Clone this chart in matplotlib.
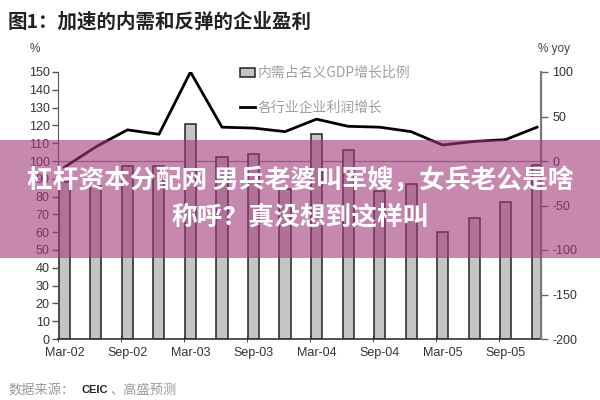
import numpy as np
import matplotlib
matplotlib.use("Agg")
from matplotlib import pyplot as plt
from matplotlib.patches import Rectangle
from matplotlib.lines import Line2D

# ----------------------------------------------------------------------------------------------------------------------
# data

quarters = ['Mar-02', 'Jun-02', 'Sep-02', 'Dec-02', 'Mar-03', 'Jun-03', 'Sep-03', 'Dec-03',
            'Mar-04', 'Jun-04', 'Sep-04', 'Dec-04', 'Mar-05', 'Jun-05', 'Sep-05', 'Dec-05']
demand_share = [88, 86, 97, 97, 121, 102, 104, 84, 115, 106, 83, 87, 60, 68, 77, 98]
profit_growth = [-7, 16, 35, 30, 100, 38, 37, 33, 47, 39, 38, 33, 18, 22, 24, 38]

left_ticks = list(range(0, 151, 10))
right_ticks = [-200, -150, -100, -50, 0, 50, 100]

CJK = ['Noto Sans CJK SC', 'DejaVu Sans']
LAT = ['Liberation Sans', 'DejaVu Sans']

# ----------------------------------------------------------------------------------------------------------------------

plt.rcParams['font.family'] = LAT
plt.rcParams['axes.unicode_minus'] = False

fig = plt.figure(figsize=(6, 4), dpi=100)
fig.patch.set_facecolor('white')

ax1 = fig.add_axes([58 / 600, 1 - 339 / 400, (541 - 58) / 600, (339 - 72) / 400])
ax2 = ax1.twinx()

idx = np.arange(len(quarters))
offset = 0.03
width = 0.35
centers = idx + offset + width / 2

ax1.bar(idx + offset, demand_share, width=width, align='edge',
        color='#c4c4c4', edgecolor='#222222', linewidth=1.1, zorder=2,
        label='内需占名义GDP增长比例')
ax1.axhline(100, color='#8a8a8a', linewidth=0.9, zorder=1)

ax2.plot(centers, profit_growth, color='black', linewidth=2, zorder=3,
         label='各行业企业利润增长')

ax1.set_xlim(0, 15.33)
ax1.set_ylim(0, 150)
ax2.set_ylim(-200, 100)

ax1.set_yticks(left_ticks)
ax2.set_yticks(right_ticks)

ax1.set_xticks(centers[::2])
ax1.set_xticklabels(quarters[::2])
ax1.set_xticks(idx[::2], minor=True)
ax1.tick_params(axis='x', which='major', length=0, pad=6, labelsize=9, labelcolor='#333333')
ax1.tick_params(axis='x', which='minor', length=5, direction='inout', color='#333333')
ax1.tick_params(axis='y', length=4, width=1, color='#555555', labelsize=9, labelcolor='#333333', pad=2)
ax2.tick_params(axis='y', length=5, width=1, color='#666666', labelsize=9, labelcolor='#333333', pad=3)

for a in (ax1, ax2):
    a.spines['top'].set_visible(False)
ax1.spines['left'].set_color('#555555')
ax1.spines['bottom'].set_color('#333333')
ax1.spines['bottom'].set_linewidth(1.2)
ax2.spines['left'].set_visible(False)
ax2.spines['bottom'].set_visible(False)
ax2.spines['right'].set_color('#777777')
ax2.spines['right'].set_linewidth(1.5)

# legend
handles = [Rectangle((0, 0), 1, 1, facecolor='#c4c4c4', edgecolor='#222222', linewidth=1.1),
           Line2D([0], [0], color='black', linewidth=2)]
labels = ['内需占名义GDP增长比例', '各行业企业利润增长']
leg = ax2.legend(handles, labels, loc='upper left', bbox_to_anchor=(240 / 600, 1 - 66 / 400),
                 bbox_transform=fig.transFigure, frameon=False, borderpad=0, borderaxespad=0,
                 handlelength=1.1, handleheight=0.6, handletextpad=0.2, labelspacing=1.5,
                 prop={'family': CJK, 'size': 10})
for t in leg.get_texts():
    t.set_color('#a0a0a0')

# titles and axis captions
fig.text(8 / 600, 1 - 22 / 400, '图1：加速的内需和反弹的企业盈利', family=CJK, fontsize=14,
         fontweight='bold', color='#222222', va='center', ha='left')
fig.text(30 / 600, 1 - 49 / 400, '%', fontsize=8.5, color='#444444', va='center', ha='left')
fig.text(538 / 600, 1 - 49 / 400, '% yoy', fontsize=8.5, color='#444444', va='center', ha='left')

# source line
fig.text(8 / 600, 1 - 390 / 400, '数据来源：', family=CJK, fontsize=9.5, color='#9a9a9a', va='center')
fig.text(82 / 600, 1 - 390 / 400, 'CEIC', fontsize=8, fontweight='bold', color='#222222', va='center')
fig.text(110 / 600, 1 - 390 / 400, '、高盛预测', family=CJK, fontsize=9.5, color='#9a9a9a', va='center')

# pink banner over the chart
band = Rectangle((0, 1 - 258 / 400), 1, 118 / 400, transform=fig.transFigure,
                 facecolor=(163 / 255, 57 / 255, 123 / 255), alpha=0.6, edgecolor='none', zorder=10)
fig.patches.append(band)

fig.text(0.5, 1 - 181 / 400, '杠杆资本分配网 男兵老婆叫军嫂，女兵老公是啥', family=CJK, fontsize=18.5,
         fontweight='bold', color='white', ha='center', va='center', zorder=11)
fig.text(0.5, 1 - 217 / 400, '称呼？真没想到这样叫', family=CJK, fontsize=18.5,
         fontweight='bold', color='white', ha='center', va='center', zorder=11)

fig.savefig('out.png', dpi=100)
